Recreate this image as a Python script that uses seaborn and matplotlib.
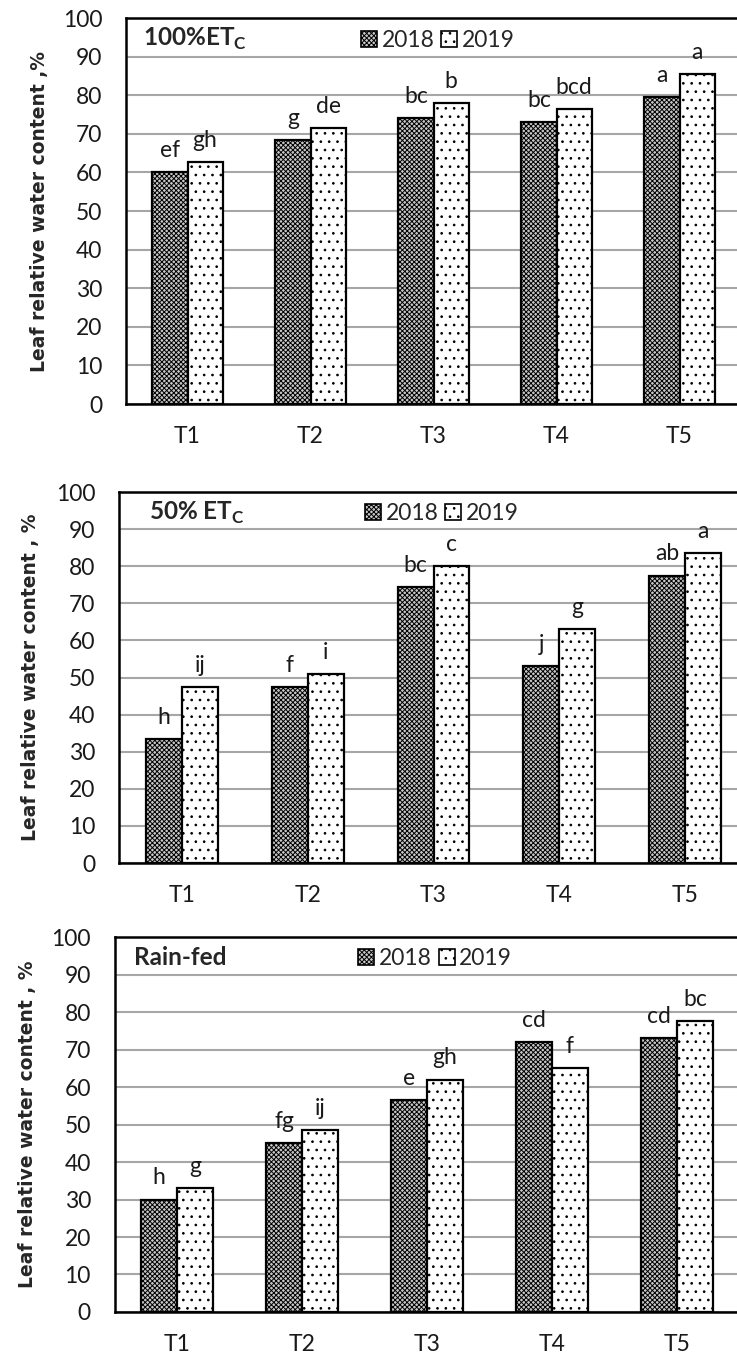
import pandas as pd
import seaborn as sns
import matplotlib.pyplot as plt
from matplotlib.patches import Patch

treatments = ["T1", "T2", "T3", "T4", "T5"]
years = ["2018", "2019"]

# 100% ETc
full_2018 = [60.0, 68.5, 74.0, 73.0, 79.5]
full_2019 = [62.8, 71.5, 78.0, 76.5, 85.5]
full_let_2018 = ["ef", "g", "bc", "bc", "a"]
full_let_2019 = ["gh", "de", "b", "bcd", "a"]

# 50% ETc
half_2018 = [33.5, 47.5, 74.5, 53.0, 77.5]
half_2019 = [47.5, 51.0, 80.0, 63.0, 83.5]
half_let_2018 = ["h", "f", "bc", "j", "ab"]
half_let_2019 = ["ij", "i", "c", "g", "a"]

# rain-fed
rain_2018 = [30.0, 45.0, 56.5, 72.0, 73.0]
rain_2019 = [33.0, 48.5, 62.0, 65.0, 77.5]
rain_let_2018 = ["h", "fg", "e", "cd", "cd"]
rain_let_2019 = ["g", "ij", "gh", "f", "bc"]

sns.set_style("white")
plt.rcParams['font.family'] = ['Lato', 'DejaVu Sans']
plt.rcParams['mathtext.fontset'] = 'custom'
plt.rcParams['mathtext.rm'] = 'Lato'
plt.rcParams['mathtext.bf'] = 'Lato:bold'
plt.rcParams['hatch.linewidth'] = 0.7

HATCHES = ["xxxxxxx", ".."]
FACES = ["#c8c8c8", "white"]


def draw_panel(ax, v18, v19, l18, l19, title, ylabel, title_x, legend_x):
    df = pd.DataFrame({
        "treatment": treatments * 2,
        "year": [years[0]] * 5 + [years[1]] * 5,
        "rwc": v18 + v19,
    })
    sns.barplot(data=df, x="treatment", y="rwc", hue="year",
                palette=FACES, saturation=1, edgecolor="black",
                linewidth=1.6, width=0.57, errorbar=None, legend=False, ax=ax)
    for cont, h, labs in zip(ax.containers, HATCHES, [l18, l19]):
        for bar in cont:
            bar.set_hatch(h)
        ax.bar_label(cont, labels=labs, padding=8, fontsize=16.5, color="#1a1a1a")

    ax.set_ylim(0, 100)
    ax.set_yticks(range(0, 101, 10))
    ax.yaxis.grid(True, color="#a6a6a6", lw=1.5)
    ax.set_axisbelow(True)
    ax.tick_params(axis="y", length=0, pad=17, labelsize=16.5, labelcolor="#1a1a1a")
    ax.tick_params(axis="x", length=0, pad=16, labelsize=16.5, labelcolor="#1a1a1a")
    ax.set_xlabel("")
    ax.set_ylabel(ylabel, fontsize=13.5, fontweight="bold", va="center",
                  family="DejaVu Sans")
    ax.yaxis.set_label_coords(-0.14, 0.5)
    for s in ax.spines.values():
        s.set_color("black")
        s.set_linewidth(1.8)

    ax.text(title_x, 0.945, title, transform=ax.transAxes, ha="left",
            va="center", fontsize=17.5, fontweight="bold")
    handles = [Patch(facecolor=f, edgecolor="black", hatch=h, lw=1.2)
               for f, h in zip(FACES, HATCHES)]
    ax.legend(handles, years, loc="center", bbox_to_anchor=(legend_x, 0.943),
              ncol=2, frameon=False, fontsize=16.5, handlelength=0.7,
              handleheight=0.7, handletextpad=0.2, columnspacing=0.3,
              borderpad=0)


fig = plt.figure(figsize=(7.37, 13.6), dpi=100)
ax1 = fig.add_axes([0.1710, 0.7029, 0.8345, 0.2838])
ax2 = fig.add_axes([0.1615, 0.3654, 0.8535, 0.2728])
ax3 = fig.add_axes([0.1554, 0.0353, 0.8480, 0.2757])

draw_panel(ax1, full_2018, full_2019, full_let_2018, full_let_2019,
           r"100%ET$_\mathbf{C}$", "Leaf relative water content ,%", 0.028, 0.507)
draw_panel(ax2, half_2018, half_2019, half_let_2018, half_let_2019,
           r"50% ET$_\mathbf{C}$", "Leaf relative water content , %", 0.048, 0.513)
draw_panel(ax3, rain_2018, rain_2019, rain_let_2018, rain_let_2019,
           "Rain-fed", "Leaf relative water content , %", 0.031, 0.513)

fig.savefig("out.png", dpi=100)
